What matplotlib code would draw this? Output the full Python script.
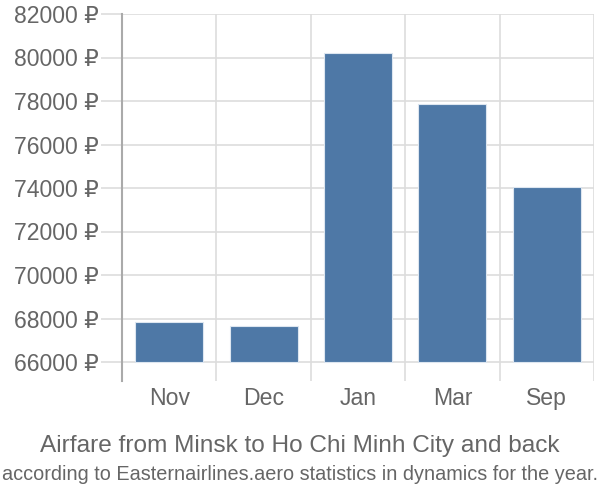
import matplotlib
matplotlib.use("Agg")
import matplotlib.pyplot as plt

categories = ["Nov", "Dec", "Jan", "Mar", "Sep"]
prices = [67840, 67650, 80210, 77860, 74050]
yticks = [66000, 68000, 70000, 72000, 74000, 76000, 78000, 80000, 82000]
base = 66000

plt.rcParams['font.family'] = ['Liberation Sans', 'DejaVu Sans']

fig = plt.figure(figsize=(6, 5), dpi=100)
ax = fig.add_axes([122/600, 1-381/500, (594-122)/600, (381-14)/500])

x = list(range(len(categories)))
ax.bar(x, [p - base for p in prices], bottom=base, width=0.72,
       color="#4E78A6", edgecolor="#dde6f0", linewidth=0.8, zorder=3)

ax.set_xlim(-0.5, len(categories) - 0.5)
ax.set_ylim(base - 19/21.75*1000, 82000)

ax.set_yticks(yticks)
ax.set_yticklabels([f"{t} ₽" for t in yticks])
ax.set_xticks(x)
ax.set_xticklabels(categories)

# horizontal grid
for t in yticks:
    ax.axhline(t, color="#dddddd", linewidth=1.2, zorder=1)
# vertical category separators
for b in [i + 0.5 for i in range(len(categories))]:
    ax.axvline(b, color="#dddddd", linewidth=1.2, zorder=1)

for s in ["top", "right", "bottom"]:
    ax.spines[s].set_visible(False)
ax.spines["left"].set_color("#aaaaaa")
ax.spines["left"].set_linewidth(1.5)

ax.tick_params(axis="y", length=15, width=1.2, color="#dddddd", pad=2,
               labelsize=16.6, labelcolor="#666666")
ax.tick_params(axis="x", length=0, pad=4, labelsize=16.6, labelcolor="#666666")

fig.text(0.5, 1-446/500, "Airfare from Minsk to Ho Chi Minh City and back",
         ha="center", va="center", fontsize=17.6, color="#666666")
fig.text(0.5, 1-475/500, "according to Easternairlines.aero statistics in dynamics for the year.",
         ha="center", va="center", fontsize=14.3, color="#666666")

fig.savefig("out.png", dpi=100)
